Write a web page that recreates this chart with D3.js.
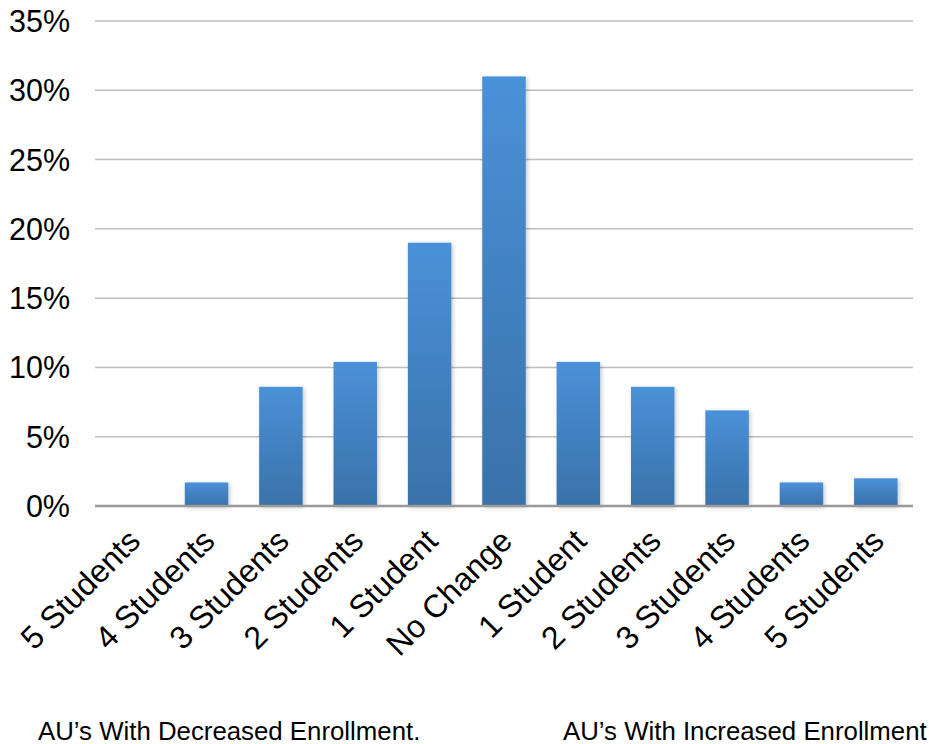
<!DOCTYPE html>
<html>
<head>
<meta charset="utf-8">
<script src="https://cdn.jsdelivr.net/npm/d3@7"></script>
<style>
  html, body { margin: 0; padding: 0; background: #fff; }
  svg { display: block; }
  text { font-family: "Liberation Sans", Arial, Helvetica, sans-serif; fill: #000; }
</style>
</head>
<body>
<svg id="chart" width="929" height="744"></svg>
<script>
// Change in enrollment per AU, share of all AUs
const categories = ["5 Students", "4 Students", "3 Students", "2 Students", "1 Student",
                    "No Change", "1 Student", "2 Students", "3 Students", "4 Students", "5 Students"];
const shares = [0, 1.7, 8.6, 10.4, 19.0, 31.0, 10.4, 8.6, 6.9, 1.7, 2.0];
const yTicks = [0, 5, 10, 15, 20, 25, 30, 35];
const groupLabels = ["AU\u2019s With Decreased Enrollment.", "AU\u2019s With Increased Enrollment"];

const svg = d3.select("#chart");
const plotLeft = 95, plotRight = 913, plotTop = 21, plotBottom = 506;

const x = d3.scaleBand()
  .domain(d3.range(categories.length))
  .range([plotLeft, plotRight])
  .paddingInner(0.415)
  .paddingOuter(0.2075);

const y = d3.scaleLinear().domain([0, 35]).range([plotBottom, plotTop]);

const defs = svg.append("defs");
const grad = defs.append("linearGradient")
  .attr("id", "barFill").attr("x1", 0).attr("y1", 0).attr("x2", 0).attr("y2", 1);
grad.append("stop").attr("offset", "0%").attr("stop-color", "#4a91d8");
grad.append("stop").attr("offset", "100%").attr("stop-color", "#3a71a9");

const shadow = defs.append("filter").attr("id", "barShadow")
  .attr("x", "-30%").attr("y", "-10%").attr("width", "160%").attr("height", "130%");
shadow.append("feDropShadow")
  .attr("dx", 1.5).attr("dy", 1.5).attr("stdDeviation", 2.2)
  .attr("flood-color", "#000").attr("flood-opacity", 0.22);

// Horizontal gridlines
svg.append("g").selectAll("line")
  .data(yTicks.filter(d => d > 0))
  .join("line")
  .attr("x1", plotLeft).attr("x2", plotRight)
  .attr("y1", d => y(d)).attr("y2", d => y(d))
  .attr("stroke", "#bdbdbd").attr("stroke-width", 1.5);

// Y tick labels
svg.append("g").selectAll("text")
  .data(yTicks)
  .join("text")
  .attr("x", 70).attr("y", d => y(d))
  .attr("dy", "0.36em")
  .attr("text-anchor", "end")
  .attr("font-size", 30.5)
  .text(d => d + "%");

// Bars
svg.append("g").selectAll("rect")
  .data(shares)
  .join("rect")
  .attr("x", (d, i) => x(i))
  .attr("width", x.bandwidth())
  .attr("y", d => y(d))
  .attr("height", d => y(0) - y(d))
  .attr("fill", "url(#barFill)")
  .attr("filter", "url(#barShadow)");

// Baseline
svg.append("line")
  .attr("x1", plotLeft).attr("x2", plotRight)
  .attr("y1", y(0)).attr("y2", y(0))
  .attr("stroke", "#999").attr("stroke-width", 2.5);

// Rotated category labels
svg.append("g").selectAll("text")
  .data(categories)
  .join("text")
  .attr("transform", (d, i) => `translate(${x(i) + x.bandwidth() / 2 + 10},${plotBottom + 37}) rotate(-45)`)
  .attr("text-anchor", "end")
  .attr("font-size", 32)
  .text(d => d);

// Group captions
svg.append("text").attr("x", 38).attr("y", 740).attr("font-size", 25.8).text(groupLabels[0]);
svg.append("text").attr("x", 563).attr("y", 740).attr("font-size", 25.8).text(groupLabels[1]);
</script>
</body>
</html>
